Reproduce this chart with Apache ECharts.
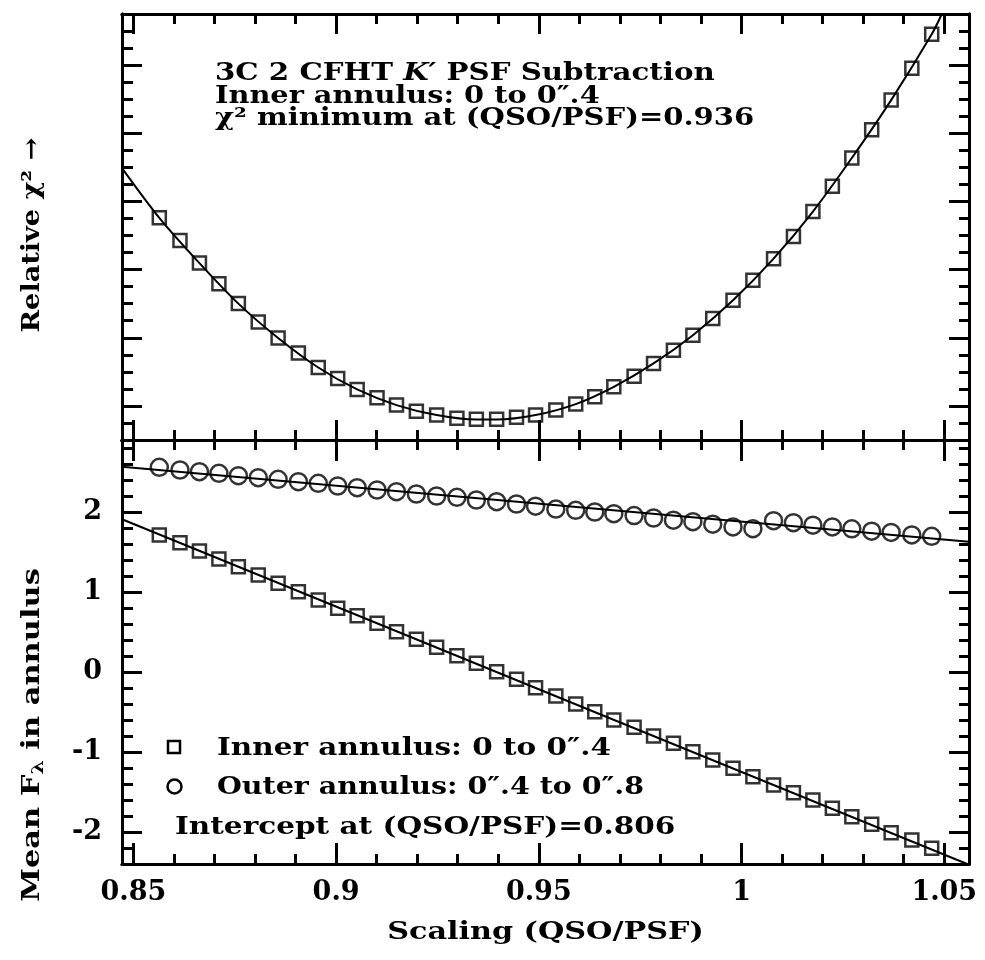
<!DOCTYPE html>
<html>
<head>
<meta charset="utf-8">
<script src="https://cdn.jsdelivr.net/npm/echarts@6/dist/echarts.min.js"></script>
<style>
html, body { margin: 0; padding: 0; background: #fff; }
#main { width: 985px; height: 960px; }
</style>
</head>
<body>
<div id="main"></div>
<script>
// scaling (QSO/PSF) of every sample, shared by the three data sets
var scaling = [0.8564, 0.8615, 0.8663, 0.8711, 0.8759, 0.8808, 0.8857, 0.8907, 0.8956, 0.9004,
  0.9052, 0.9101, 0.9149, 0.9198, 0.9248, 0.9298, 0.9346, 0.9396, 0.9445, 0.9492,
  0.9542, 0.9591, 0.9638, 0.9685, 0.9735, 0.9783, 0.9832, 0.9880, 0.9929, 0.9979,
  1.0028, 1.0079, 1.0128, 1.0176, 1.0224, 1.0272, 1.0321, 1.0369, 1.0420, 1.0469];

// relative chi^2, inner annulus (arbitrary units, no labels on this axis)
var chiRel = [3.260, 2.927, 2.595, 2.294, 2.001, 1.732, 1.497, 1.278, 1.064, 0.903,
  0.742, 0.619, 0.512, 0.420, 0.366, 0.318, 0.303, 0.303, 0.332, 0.366,
  0.439, 0.527, 0.634, 0.780, 0.937, 1.123, 1.317, 1.537, 1.781, 2.049,
  2.342, 2.660, 2.986, 3.352, 3.722, 4.138, 4.552, 4.987, 5.455, 5.953];

// mean F_lambda in the two annuli
var innerF = [1.713, 1.616, 1.513, 1.413, 1.316, 1.213, 1.109, 1.004, 0.900, 0.796,
  0.704, 0.609, 0.504, 0.409, 0.309, 0.204, 0.109, 0.004, -0.091, -0.196,
  -0.300, -0.400, -0.496, -0.600, -0.691, -0.800, -0.891, -0.996, -1.100, -1.204,
  -1.309, -1.413, -1.509, -1.600, -1.704, -1.809, -1.904, -2.009, -2.100, -2.204];
var outerF = [2.559, 2.525, 2.504, 2.484, 2.454, 2.429, 2.409, 2.379, 2.359, 2.325,
  2.304, 2.275, 2.254, 2.225, 2.200, 2.184, 2.150, 2.129, 2.100, 2.073,
  2.037, 2.021, 2.000, 1.979, 1.956, 1.925, 1.898, 1.879, 1.848, 1.813,
  1.791, 1.891, 1.866, 1.835, 1.813, 1.790, 1.760, 1.744, 1.713, 1.696];

// fitted curves
var chiFitX = [0.8472, 0.8564, 0.8663, 0.8759, 0.8857, 0.8956, 0.9052, 0.9149, 0.9248, 0.9346,
  0.9396, 0.9492, 0.9591, 0.9685, 0.9783, 0.9880, 0.9979, 1.0079, 1.0176, 1.0272,
  1.0369, 1.0469, 1.0494];
var chiFitY = [3.990, 3.260, 2.595, 2.001, 1.497, 1.064, 0.742, 0.512, 0.366, 0.300,
  0.300, 0.366, 0.527, 0.780, 1.123, 1.537, 2.049, 2.660, 3.352, 4.138,
  4.987, 5.953, 6.250];
var innerFitX = [0.8472, 1.0561];
var innerFitY = [1.909, -2.410];
var outerFitX = [0.8472, 1.0561];
var outerFitY = [2.566, 1.629];

// tick labels
var xTicks = [0.85, 0.9, 0.95, 1, 1.05];
var fTicks = [-2, -1, 0, 1, 2];

var FONT = 'DejaVu Serif';
var xRange = [0.8472, 1.0561];
var chiRange = [0, 6.25];
var fRange = [-2.4, 2.9];

function steps(a, b, s) {
  var r = [];
  for (var v = a; v <= b + 1e-9; v += s) r.push(Math.round(v * 1000) / 1000);
  return r;
}
var xMinor = steps(0.85, 1.05, 0.01);
var chiMajor = steps(0.5, 5.5, 1);
var chiMinor = steps(0.25, 6, 0.25);
var fMinor = steps(-2.2, 2.8, 0.2);

function pairs(xs, ys) {
  return xs.map(function (x, i) { return [x, ys[i]]; });
}

function axis(grid, pos, range, ticks, len, label) {
  return {
    type: 'value', gridIndex: grid, position: pos, min: range[0], max: range[1],
    axisLine: { show: true, onZero: false, lineStyle: { color: '#000', width: 3 } },
    axisTick: { show: true, inside: true, length: len, customValues: ticks,
      lineStyle: { color: '#000', width: 3 } },
    axisLabel: label || { show: false },
    splitLine: { show: false }
  };
}

function text(str, x, y, size, sx, extra) {
  var el = {
    type: 'text', x: x, y: y, scaleX: sx, z: 100,
    style: {
      text: str, fontFamily: FONT, fontSize: size, fontWeight: 'bold', fill: '#000',
      textAlign: 'left', align: 'left', textVerticalAlign: 'middle', verticalAlign: 'middle'
    }
  };
  if (extra) {
    for (var k in extra.style || {}) el.style[k] = extra.style[k];
    if (extra.rotation) el.rotation = extra.rotation;
  }
  return el;
}
var center = { style: { textAlign: 'center', align: 'center' } };

var chartDom = document.getElementById('main');
var myChart = echarts.init(chartDom);
var option = {
  backgroundColor: '#fff',
  animation: false,
  grid: [
    { left: 122, right: 16, top: 14, height: 426 },
    { left: 122, right: 16, top: 440, height: 424 }
  ],
  xAxis: [
    axis(0, 'bottom', xRange, xTicks, 20),
    axis(0, 'bottom', xRange, xMinor, 10),
    axis(0, 'top', xRange, xTicks, 20),
    axis(0, 'top', xRange, xMinor, 10),
    axis(1, 'bottom', xRange, xTicks, 21, {
      show: true, customValues: xTicks, margin: 15,
      fontFamily: FONT, fontSize: 27, fontWeight: 'bold', color: '#000'
    }),
    axis(1, 'bottom', xRange, xMinor, 10),
    axis(1, 'top', xRange, xTicks, 21),
    axis(1, 'top', xRange, xMinor, 10)
  ],
  yAxis: [
    axis(0, 'left', chiRange, chiMajor, 20),
    axis(0, 'left', chiRange, chiMinor, 11),
    axis(0, 'right', chiRange, chiMajor, 20),
    axis(0, 'right', chiRange, chiMinor, 10),
    axis(1, 'left', fRange, fTicks, 20, {
      show: true, customValues: fTicks, margin: 20,
      fontFamily: FONT, fontSize: 27, fontWeight: 'bold', color: '#000'
    }),
    axis(1, 'left', fRange, fMinor, 11),
    axis(1, 'right', fRange, fTicks, 20),
    axis(1, 'right', fRange, fMinor, 10)
  ],
  series: [
    {
      name: 'chi2 fit', type: 'line', xAxisIndex: 0, yAxisIndex: 0,
      data: pairs(chiFitX, chiFitY), showSymbol: false, smooth: 0.3,
      lineStyle: { color: '#000', width: 2 }
    },
    {
      name: 'chi2', type: 'scatter', xAxisIndex: 0, yAxisIndex: 0,
      data: pairs(scaling, chiRel), symbol: 'rect', symbolSize: 13,
      itemStyle: { color: 'rgba(0,0,0,0)', borderColor: '#000', borderWidth: 2.5 }
    },
    {
      name: 'inner fit', type: 'line', xAxisIndex: 4, yAxisIndex: 4,
      data: pairs(innerFitX, innerFitY), showSymbol: false,
      lineStyle: { color: '#000', width: 2 }
    },
    {
      name: 'outer fit', type: 'line', xAxisIndex: 4, yAxisIndex: 4,
      data: pairs(outerFitX, outerFitY), showSymbol: false,
      lineStyle: { color: '#000', width: 2 }
    },
    {
      name: 'Inner annulus: 0 to 0″.4', type: 'scatter', xAxisIndex: 4, yAxisIndex: 4,
      data: pairs(scaling, innerF), symbol: 'rect', symbolSize: 13,
      itemStyle: { color: 'rgba(0,0,0,0)', borderColor: '#000', borderWidth: 2.5 }
    },
    {
      name: 'Outer annulus: 0″.4 to 0″.8', type: 'scatter', xAxisIndex: 4, yAxisIndex: 4,
      data: pairs(scaling, outerF), symbol: 'circle', symbolSize: 17,
      itemStyle: { color: 'rgba(0,0,0,0)', borderColor: '#000', borderWidth: 2.5 }
    }
  ],
  graphic: [
    text('3C 2 CFHT {it|K′} PSF Subtraction', 215, 74, 24, 1.22, {
      style: { rich: { it: { fontFamily: FONT, fontSize: 24, fontWeight: 'bold', fontStyle: 'italic' } } }
    }),
    text('Inner annulus: 0 to 0″.4', 215, 96.5, 24, 1.2),
    text('χ² minimum at (QSO/PSF)=0.936', 215, 119, 24, 1.21),
    // legend
    { type: 'rect', shape: { x: 168, y: 741, width: 12, height: 12 },
      style: { fill: 'none', stroke: '#000', lineWidth: 2.5 } },
    { type: 'circle', shape: { cx: 174.5, cy: 786.5, r: 7 },
      style: { fill: 'none', stroke: '#000', lineWidth: 2.5 } },
    text('Inner annulus: 0 to 0″.4', 217, 748, 25, 1.18),
    text('Outer annulus: 0″.4 to 0″.8', 217, 787.5, 25, 1.14),
    text('Intercept at (QSO/PSF)=0.806', 175, 827, 25, 1.18),
    // axis titles
    text('Scaling (QSO/PSF)', 545.5, 933, 24, 1.26, center),
    text('Relative χ² →', 33, 235, 24, 1.13, {
      rotation: Math.PI / 2, style: { textAlign: 'center', align: 'center' }
    }),
    text('Mean F{sub|λ} in annulus', 33, 735, 24, 1.27, {
      rotation: Math.PI / 2,
      style: {
        textAlign: 'center', align: 'center',
        rich: { sub: { fontFamily: FONT, fontSize: 16, fontWeight: 'bold', verticalAlign: 'bottom', padding: [12, 0, 0, 0] } }
      }
    })
  ]
};
option && myChart.setOption(option);
</script>
</body>
</html>
